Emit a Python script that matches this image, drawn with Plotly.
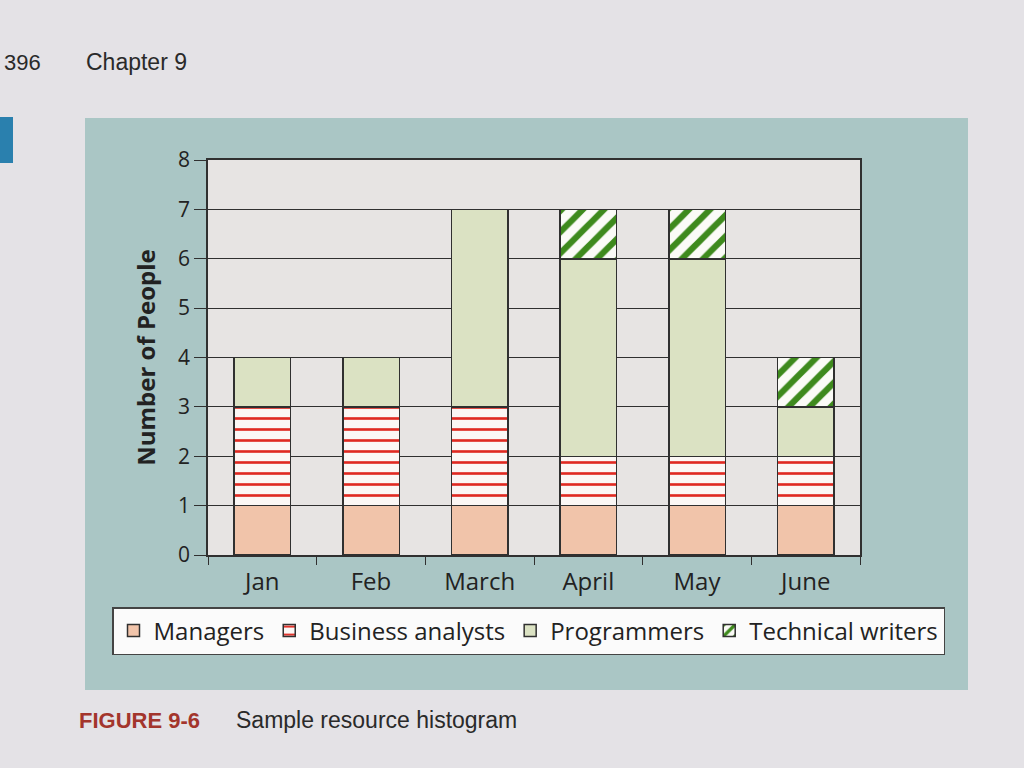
import plotly.graph_objects as go

# Resource histogram data (people per month)
months = ['Jan', 'Feb', 'March', 'April', 'May', 'June']
managers = [1, 1, 1, 1, 1, 1]
business_analysts = [2, 2, 2, 1, 1, 1]
programmers = [1, 1, 4, 4, 4, 1]
technical_writers = [0, 0, 0, 1, 1, 1]

W, H = 1024, 768
L, R, T, B = 208, 164, 160, 213
pw, ph = W - L - R, H - T - B


def px(x):
    return (x - L) / pw


def py(y):
    return (H - B - y) / ph


edge = dict(color='#303030', width=1.5)

fig = go.Figure()

fig.add_trace(go.Bar(
    x=months, y=managers, name='Managers',
    marker=dict(color='#f1c4aa', line=edge)
))
fig.add_trace(go.Bar(
    x=months, y=business_analysts, name='Business analysts',
    marker=dict(color='white', line=edge,
                pattern=dict(shape='-', fgcolor='#e02a22', bgcolor='#fbf7f5',
                             fgopacity=1, size=11, solidity=0.24))
))
fig.add_trace(go.Bar(
    x=months, y=programmers, name='Programmers',
    marker=dict(color='#dbe2c3', line=edge)
))
fig.add_trace(go.Bar(
    x=months, y=technical_writers, name='Technical writers',
    marker=dict(color='white', line=edge,
                pattern=dict(shape='/', fgcolor='#3e8a1d', bgcolor='#fbfbf7',
                             fgopacity=1, size=15, solidity=0.42))
))

# page furniture: teal panel, plot background, blue tab
fig.add_shape(type='rect', xref='paper', yref='paper', layer='below',
              x0=px(85), x1=px(968), y0=py(690), y1=py(118),
              fillcolor='#aac6c5', line=dict(width=0))
fig.add_shape(type='rect', xref='paper', yref='paper', layer='below',
              x0=0, x1=1, y0=0, y1=1,
              fillcolor='#e7e4e3', line=dict(width=0))
fig.add_shape(type='rect', xref='paper', yref='paper', layer='below',
              x0=px(-5), x1=px(13), y0=py(163), y1=py(117),
              fillcolor='#2a80ae', line=dict(width=0))

# page texts
fig.add_annotation(xref='paper', yref='paper', x=px(2), y=py(62),
                   xanchor='left', yanchor='middle', showarrow=False,
                   text='396', font=dict(family='Liberation Sans', size=22, color='#2a2a2a'))
fig.add_annotation(xref='paper', yref='paper', x=px(84), y=py(62),
                   xanchor='left', yanchor='middle', showarrow=False,
                   text='Chapter 9', font=dict(family='Liberation Sans', size=23, color='#2a2a2a'))
fig.add_annotation(xref='paper', yref='paper', x=px(77), y=py(720),
                   xanchor='left', yanchor='middle', showarrow=False,
                   text='<b>FIGURE 9-6</b>', font=dict(family='Liberation Sans', size=22, color='#a3352c'))
fig.add_annotation(xref='paper', yref='paper', x=px(234), y=py(720),
                   xanchor='left', yanchor='middle', showarrow=False,
                   text='Sample resource histogram', font=dict(family='Liberation Sans', size=23, color='#2a2a2a'))

fig.update_layout(
    width=W, height=H,
    margin=dict(l=L, r=R, t=T, b=B),
    barmode='stack',
    bargap=0.48,
    paper_bgcolor='#e4e2e6',
    plot_bgcolor='rgba(0,0,0,0)',
    font=dict(family='Open Sans', color='#222222'),
    showlegend=True,
    legend=dict(
        orientation='h', x=px(112), y=py(607), xanchor='left', yanchor='top',
        bgcolor='#fbfbfb', bordercolor='#444444', borderwidth=1.5,
        font=dict(size=24, color='#222222'), traceorder='normal',
        itemwidth=30, tracegroupgap=0,
    ),
    xaxis=dict(
        showgrid=False, showline=True, linecolor='#303030', linewidth=1.5,
        mirror=True, ticks='outside', tickson='boundaries', ticklen=8,
        tickcolor='#303030', tickfont=dict(size=24), zeroline=False,
        ticklabelstandoff=4,
    ),
    yaxis=dict(
        range=[0, 8], dtick=1, showgrid=True, gridcolor='#303030', gridwidth=1.2,
        showline=True, linecolor='#303030', linewidth=1.5, mirror=True,
        ticks='outside', ticklen=12, tickcolor='#303030', tickfont=dict(size=21),
        zeroline=False,
        title=dict(text='<b>Number of People</b>', font=dict(size=24), standoff=16),
    ),
)

# drop the browser's default page margin so the figure sits at the window origin
fig.write_html('out.html',
               config={'displayModeBar': False},
               post_script="document.body.style.margin='0';"
                           "document.body.style.background='#e4e2e6';")
